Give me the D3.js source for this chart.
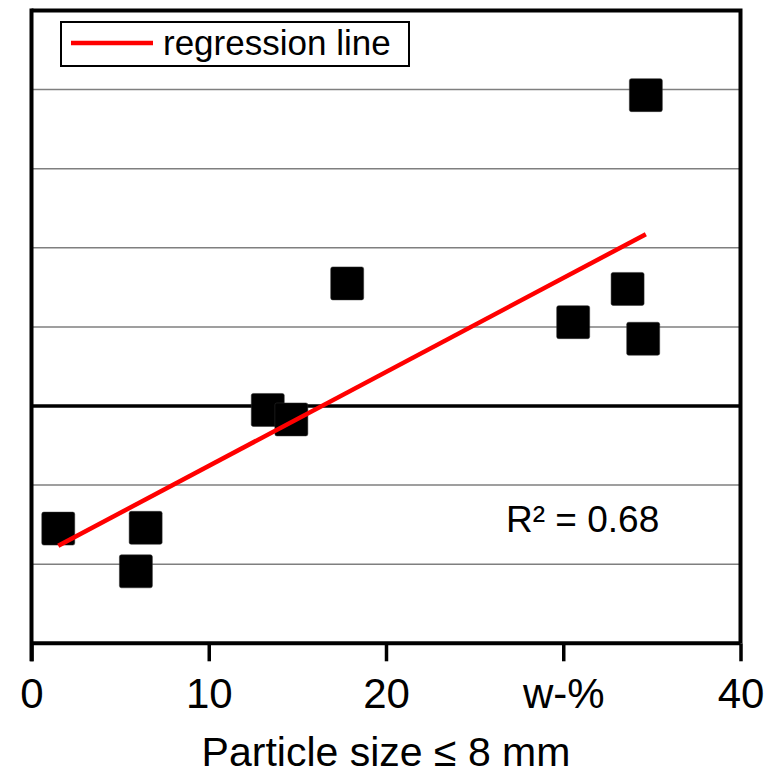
<!DOCTYPE html>
<html>
<head>
<meta charset="utf-8">
<script src="https://cdn.jsdelivr.net/npm/d3@7"></script>
<style>
  body { margin: 0; background: #fff; }
  text { font-family: "Liberation Sans", Arial, sans-serif; fill: #000; }
</style>
</head>
<body>
<div id="chart"></div>
<script>
// values
const xVals = [1.51, 6.44, 5.89, 13.33, 14.66, 17.81, 30.56, 33.63, 34.51, 34.66];
const yVals = [-1.55, -1.54, -2.09, -0.05, -0.17, 1.55, 1.06, 1.48, 0.85, 3.93];
const xTicks = [0, 10, 20, 30, 40];
const xTickLabels = ['0', '10', '20', 'w-%', '40'];
const yGrid = [-2, -1, 1, 2, 3, 4];
const xTitle = 'Particle size \u2264 8 mm';
const legendLabel = 'regression line';
const r2Label = 'R\u00b2 = 0.68';

const width = 771, height = 775;
const svg = d3.select('#chart').append('svg')
	.attr('width', width)
	.attr('height', height);

let x = d3.scaleLinear().domain([0, 40]).range([31.5, 740.5]);
let y = d3.scaleLinear().domain([-3, 5]).range([643.3, 10.5]);

let points = xVals.map((d, i) => ({x: d, y: yVals[i]}));

//gridlines
svg.selectAll('line.grid')
	.data(yGrid)
	.join('line')
	.classed('grid', true)
	.attr('x1', x(0)).attr('x2', x(40))
	.attr('y1', d => y(d)).attr('y2', d => y(d))
	.style('stroke', '#7f7f7f')
	.style('stroke-width', 1.5);

//zero line
svg.append('line')
	.attr('x1', x(0)).attr('x2', x(40))
	.attr('y1', y(0)).attr('y2', y(0))
	.style('stroke', '#000')
	.style('stroke-width', 3.5);

//frame top + right
svg.append('path')
	.attr('d', `M${x(0)},${y(5)}H${x(40)}V${y(-3)}`)
	.style('fill', 'none')
	.style('stroke', '#000')
	.style('stroke-width', 4);

//x axis
let xAxis = d3.axisBottom(x)
	.tickValues(xTicks)
	.tickSize(18)
	.tickFormat((d, i) => xTickLabels[i]);
let gx = svg.append('g')
	.attr('transform', `translate(0,${y(-3)})`)
	.call(xAxis);
gx.select('.domain').attr('d', `M${x(0)},0H${x(40)}`).style('stroke-width', 4);
gx.selectAll('.tick line').style('stroke-width', 3.5);
gx.selectAll('.tick text')
	.attr('y', 0)
	.attr('dy', 0)
	.attr('transform', 'translate(0,65)')
	.style('font-size', '42px')
	.style('font-family', '"Liberation Sans", Arial, sans-serif');

//left axis line
svg.append('line')
	.attr('x1', x(0)).attr('x2', x(0))
	.attr('y1', y(5) - 2).attr('y2', y(-3) + 18)
	.style('stroke', '#000')
	.style('stroke-width', 4);

//regression line (least squares)
let mx = d3.mean(xVals), my = d3.mean(yVals);
let slope = d3.sum(points, p => (p.x - mx) * (p.y - my)) / d3.sum(points, p => (p.x - mx) ** 2);
let icpt = my - slope * mx;
let xr = d3.extent(xVals);

//squares
const sz = 33;
svg.selectAll('rect.pt')
	.data(points)
	.join('rect')
	.classed('pt', true)
	.attr('x', d => x(d.x) - sz / 2)
	.attr('y', d => y(d.y) - sz / 2)
	.attr('width', sz)
	.attr('height', sz)
	.attr('rx', 2)
	.style('fill', '#000')
	.style('stroke', '#333')
	.style('stroke-width', 0.5);

svg.append('line')
	.attr('x1', x(xr[0])).attr('y1', y(icpt + slope * xr[0]))
	.attr('x2', x(xr[1])).attr('y2', y(icpt + slope * xr[1]))
	.style('stroke', '#ff0000')
	.style('stroke-width', 4.5);

//x title
svg.append('text')
	.attr('x', (x(0) + x(40)) / 2)
	.attr('y', 766)
	.attr('text-anchor', 'middle')
	.style('font-size', '41px')
	.text(xTitle);

//R2 label
svg.append('text')
	.attr('x', 506)
	.attr('y', 532)
	.style('font-size', '37px')
	.text(r2Label);

//legend
let legend = svg.append('g').attr('transform', 'translate(61,22)');
legend.append('rect')
	.attr('width', 348)
	.attr('height', 44)
	.style('fill', '#fff')
	.style('stroke', '#000')
	.style('stroke-width', 2);
legend.append('line')
	.attr('x1', 10).attr('x2', 92)
	.attr('y1', 21).attr('y2', 21)
	.style('stroke', '#ff0000')
	.style('stroke-width', 4.5);
legend.append('text')
	.attr('x', 102)
	.attr('y', 33)
	.style('font-size', '35px')
	.text(legendLabel);
</script>
</body>
</html>
